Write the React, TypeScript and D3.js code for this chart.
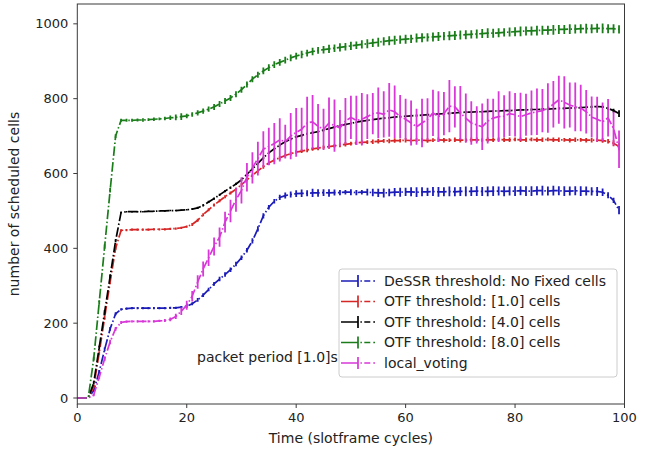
import React from "react";
import * as d3 from "d3";

// sampling grid (slotframe cycles)
const time = d3.range(0, 100);

const dessr = [
  0, 0, 0, 20, 70, 130, 185, 225, 237, 239,
  240, 240, 240, 240, 240, 240, 240, 241, 241, 243,
  245, 252, 262, 275, 290, 305, 318, 330, 343, 358,
  375, 395, 420, 452, 487, 510, 526, 536, 541, 544,
  546, 547, 547, 548, 548, 549, 548, 549, 549, 550,
  550, 549, 550, 550, 549, 548, 548, 549, 550, 550,
  551, 551, 550, 551, 551, 552, 551, 551, 552, 551,
  552, 552, 552, 553, 552, 552, 553, 553, 552, 553,
  553, 554, 553, 553, 554, 554, 553, 554, 554, 553,
  553, 554, 553, 553, 552, 552, 550, 542, 528, 502,
];
const dessrErr = [
  0, 0, 0, 3, 5, 5, 5, 4, 3, 3,
  3, 3, 3, 3, 3, 3, 3, 3, 3, 3,
  4, 4, 5, 5, 5, 5, 6, 6, 6, 6,
  6, 6, 7, 7, 7, 6, 6, 7, 8, 8,
  9, 10, 8, 11, 10, 9, 10, 8, 7, 6,
  8, 7, 6, 9, 10, 11, 12, 10, 11, 12,
  11, 12, 13, 12, 11, 12, 13, 12, 13, 12,
  12, 13, 12, 13, 12, 13, 13, 12, 13, 12,
  13, 12, 13, 13, 12, 13, 12, 13, 12, 13,
  12, 12, 13, 12, 11, 12, 10, 8, 7, 11,
];

const otf1 = [
  0, 0, 0, 30, 120, 215, 310, 400, 448, 449,
  450, 450, 450, 450, 451, 451, 451, 452, 453, 455,
  458, 464, 475, 490, 503, 516, 527, 538, 548, 558,
  570, 583, 595, 607, 618, 628, 636, 642, 648, 653,
  657, 660, 663, 666, 668, 670, 672, 674, 676, 678,
  680, 682, 683, 684, 685, 686, 687, 687, 688, 688,
  689, 688, 689, 689, 688, 689, 690, 689, 689, 690,
  689, 689, 690, 690, 689, 690, 690, 691, 690, 690,
  691, 690, 690, 691, 690, 690, 691, 690, 690, 690,
  689, 690, 690, 689, 689, 689, 688, 686, 681, 672,
];
const otf1Err = [
  0, 0, 0, 4, 5, 5, 5, 4, 3, 3,
  3, 3, 3, 3, 3, 3, 3, 3, 3, 3,
  3, 4, 4, 4, 4, 4, 4, 4, 4, 4,
  4, 4, 4, 5, 5, 5, 5, 5, 5, 5,
  5, 5, 6, 5, 6, 5, 6, 5, 6, 6,
  5, 6, 6, 5, 6, 6, 5, 6, 6, 5,
  6, 6, 5, 6, 6, 5, 6, 6, 5, 6,
  6, 5, 6, 6, 5, 6, 6, 5, 6, 6,
  5, 6, 6, 5, 6, 6, 5, 6, 6, 5,
  6, 6, 5, 6, 6, 5, 6, 6, 8, 10,
];

const otf4 = [
  0, 0, 0, 40, 135, 230, 325, 420, 496, 498,
  498, 498, 498, 499, 499, 500, 500, 501, 501, 502,
  503, 505, 508, 515, 524, 533, 543, 553, 562, 572,
  583, 598, 612, 627, 642, 655, 666, 676, 685, 692,
  698, 702, 706, 709, 712, 716, 720, 724, 728, 731,
  734, 737, 740, 742, 744, 746, 748, 749, 751, 752,
  753, 754, 755, 756, 757, 758, 759, 760, 761, 762,
  763, 764, 764, 765, 765, 766, 767, 767, 768, 768,
  769, 770, 770, 771, 771, 772, 772, 773, 774, 774,
  775, 775, 776, 777, 778, 779, 778, 774, 768, 760,
];
const otf4Err = [
  0, 0, 0, 4, 5, 5, 5, 4, 2, 2,
  2, 2, 2, 2, 2, 2, 2, 2, 2, 2,
  2, 2, 3, 3, 3, 3, 3, 3, 3, 3,
  3, 3, 3, 3, 3, 3, 3, 3, 3, 3,
  3, 3, 3, 3, 3, 3, 3, 3, 3, 3,
  3, 2, 3, 3, 2, 3, 3, 2, 3, 3,
  2, 3, 3, 2, 3, 3, 2, 3, 3, 2,
  3, 3, 2, 3, 3, 2, 3, 3, 2, 3,
  3, 2, 3, 3, 2, 3, 3, 2, 3, 3,
  2, 3, 3, 2, 3, 3, 3, 4, 5, 9,
];

const otf8 = [
  0, 0, 0, 105, 255, 405, 555, 700, 742, 742,
  742, 743, 743, 744, 745, 746, 747, 749, 750, 752,
  754, 758, 762, 767, 772, 778, 786, 794, 802, 812,
  824, 838, 852, 864, 874, 883, 891, 897, 903, 909,
  914, 918, 922, 926, 929, 931, 933, 935, 937, 939,
  941, 943, 945, 947, 949, 951, 953, 955, 956, 958,
  959, 960, 962, 963, 964, 965, 966, 967, 968, 969,
  970, 971, 972, 973, 974, 975, 975, 976, 977, 978,
  979, 980, 981, 981, 982, 983, 983, 984, 985, 985,
  986, 986, 987, 987, 987, 988, 988, 987, 987, 985,
];
const otf8Err = [
  0, 0, 0, 5, 6, 6, 6, 5, 4, 4,
  4, 4, 5, 4, 5, 4, 5, 6, 8, 9,
  6, 6, 7, 7, 7, 8, 8, 8, 8, 8,
  8, 8, 8, 8, 9, 9, 9, 9, 9, 9,
  9, 10, 9, 10, 9, 10, 11, 10, 11, 10,
  11, 10, 11, 12, 11, 12, 11, 12, 12, 11,
  12, 11, 12, 12, 11, 12, 12, 11, 12, 12,
  12, 12, 11, 12, 12, 13, 12, 12, 11, 12,
  12, 13, 12, 12, 13, 12, 12, 13, 12, 12,
  13, 12, 12, 13, 12, 12, 13, 12, 12, 11,
];

const localVoting = [
  0, 0, 0, 8, 55, 105, 150, 185, 202, 204,
  205, 205, 205, 205, 205, 206, 207, 210, 218, 232,
  248, 272, 310, 345, 375, 405, 430, 470, 500, 530,
  555, 590, 615, 640, 665, 672, 680, 690, 685, 700,
  710, 718, 735, 738, 726, 718, 735, 728, 722, 740,
  750, 742, 745, 752, 760, 762, 758, 770, 765, 752,
  745, 735, 725, 735, 745, 762, 752, 760, 780, 778,
  762, 748, 735, 730, 725, 740, 748, 752, 753, 760,
  757, 752, 757, 762, 765, 768, 775, 785, 797, 790,
  783, 778, 775, 765, 751, 745, 738, 749, 720, 665,
];
const localVotingErr = [
  0, 0, 0, 3, 5, 6, 6, 5, 4, 3,
  3, 3, 3, 3, 3, 3, 4, 5, 7, 10,
  12, 14, 18, 20, 22, 24, 26, 28, 30, 32,
  35, 38, 42, 45, 48, 50, 55, 58, 45, 62,
  65, 58, 70, 72, 60, 55, 68, 70, 48, 62,
  58, 66, 70, 60, 55, 68, 62, 72, 70, 58,
  55, 60, 48, 65, 56, 62, 68, 58, 70, 55,
  72, 66, 58, 50, 62, 60, 52, 68, 56, 60,
  58, 64, 56, 60, 62, 58, 66, 62, 64, 70,
  60, 65, 62, 58, 55, 60, 52, 50, 45, 50,
];

const seriesNames = [
  "DeSSR threshold: No Fixed cells",
  "OTF threshold: [1.0] cells",
  "OTF threshold: [4.0] cells",
  "OTF threshold: [8.0] cells",
  "local_voting",
];
const seriesColors = ["#1c1cb8", "#d62626", "#000000", "#1a7d1a", "#d838d8"];

const xTicks = [0, 20, 40, 60, 80, 100];
const yTicks = [0, 200, 400, 600, 800, 1000];

const W = 657;
const H = 450;
const left = 77.3;
const right = 624.5;
const top = 4;
const bottom = 404;

export default function App() {
  const x = d3.scaleLinear().domain([0, 100]).range([left, right]);
  const y = d3.scaleLinear().domain([-16, 1053]).range([bottom, top]);

  const series = [
    { v: dessr, e: dessrErr },
    { v: otf1, e: otf1Err },
    { v: otf4, e: otf4Err },
    { v: otf8, e: otf8Err },
    { v: localVoting, e: localVotingErr },
  ];

  const line = (vals: number[]) =>
    d3
      .line<number>()
      .x((_, i) => x(time[i]))
      .y((d) => y(d))(vals) as string;

  const dash = "9.6,2.4,1.5,2.4";
  const font = "DejaVu Sans, sans-serif";
  const axisColor = "#3a3a3a";

  const legX = 339;
  const legY = 269;
  const legRowH = 20.5;

  return (
    <svg
      width={W}
      height={H}
      style={{ position: "absolute", left: 0, top: 0, background: "#fff" }}
      fontFamily={font}
    >
      <rect x={0} y={0} width={W} height={H} fill="#fff" />
      <defs>
        <clipPath id="plot">
          <rect x={left} y={top} width={right - left} height={bottom - top} />
        </clipPath>
      </defs>
      <g clipPath="url(#plot)">
        {series.map((s, si) => (
          <g key={si}>
            <path
              d={line(s.v)}
              fill="none"
              stroke={seriesColors[si]}
              strokeWidth={1.7}
              strokeDasharray={dash}
            />
            {s.v.map((val, i) =>
              s.e[i] > 0 ? (
                <line
                  key={i}
                  x1={x(time[i])}
                  x2={x(time[i])}
                  y1={y(val - s.e[i])}
                  y2={y(val + s.e[i])}
                  stroke={seriesColors[si]}
                  strokeWidth={1.8}
                />
              ) : null
            )}
          </g>
        ))}
      </g>

      {/* frame */}
      <rect
        x={left}
        y={top}
        width={right - left}
        height={bottom - top}
        fill="none"
        stroke={axisColor}
        strokeWidth={1}
      />

      {/* x ticks */}
      {xTicks.map((t) => (
        <g key={"x" + t}>
          <line x1={x(t)} x2={x(t)} y1={bottom} y2={bottom + 4} stroke={axisColor} />
          <text x={x(t)} y={bottom + 18} fontSize={13} textAnchor="middle" fill="#222">
            {t}
          </text>
        </g>
      ))}
      {/* y ticks */}
      {yTicks.map((t) => (
        <g key={"y" + t}>
          <line x1={left - 4} x2={left} y1={y(t)} y2={y(t)} stroke={axisColor} />
          <text
            x={left - 9}
            y={y(t)}
            dy="0.35em"
            fontSize={13}
            textAnchor="end"
            fill="#222"
          >
            {t}
          </text>
        </g>
      ))}

      <text x={(left + right) / 2} y={443} fontSize={14} textAnchor="middle" fill="#222">
        Time (slotframe cycles)
      </text>
      <text
        transform={`translate(19, ${(top + bottom) / 2}) rotate(-90)`}
        fontSize={14}
        textAnchor="middle"
        fill="#222"
      >
        number of scheduled cells
      </text>

      <text x={197} y={362} fontSize={14} fill="#222">
        packet period [1.0]s
      </text>

      {/* legend */}
      <rect
        x={legX}
        y={legY}
        width={278}
        height={108}
        rx={3}
        fill="#fff"
        fillOpacity={0.85}
        stroke="#cccccc"
        strokeWidth={1}
      />
      {seriesNames.map((name, i) => {
        const cy = legY + 12 + i * legRowH;
        return (
          <g key={name}>
            <line
              x1={legX + 2}
              x2={legX + 36}
              y1={cy}
              y2={cy}
              stroke={seriesColors[i]}
              strokeWidth={1.7}
              strokeDasharray="17,2.4,1.5,2.4,6,3"
            />
            <line
              x1={legX + 19}
              x2={legX + 19}
              y1={cy - 6}
              y2={cy + 6}
              stroke={seriesColors[i]}
              strokeWidth={1.7}
            />
            <text x={legX + 45} y={cy} dy="0.35em" fontSize={14} fill="#222">
              {name}
            </text>
          </g>
        );
      })}
    </svg>
  );
}
